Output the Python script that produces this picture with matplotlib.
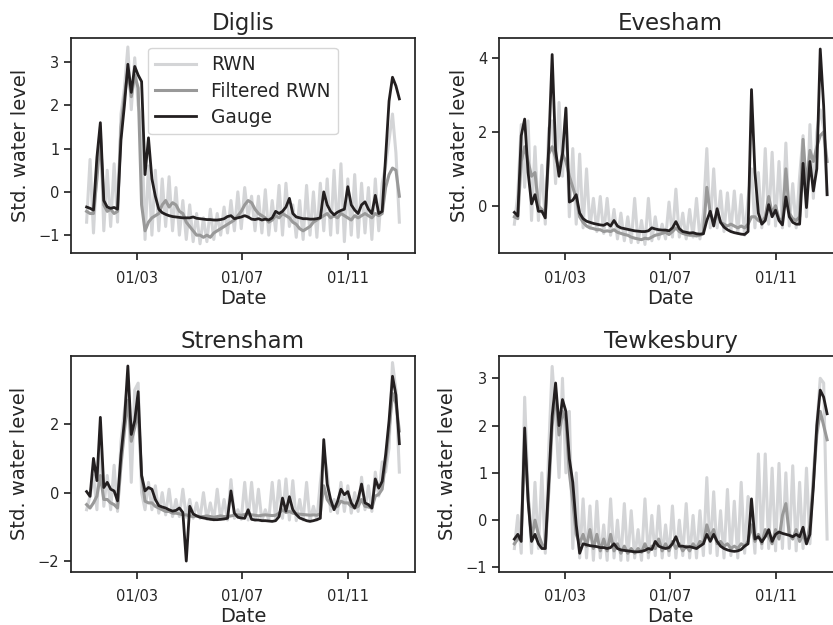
import matplotlib
matplotlib.use("Agg")
import matplotlib.pyplot as plt
import matplotlib.dates as mdates
from matplotlib.ticker import MultipleLocator
import pandas as pd

# una muestra cada 4 dias, del 1 de enero al 31 de diciembre
dates = pd.date_range("2018-01-01", periods=92, freq="4D")

stations = ["Diglis", "Evesham", "Strensham", "Tewkesbury"]

diglis_rwn = [
    -0.7, 0.75, -0.95, 0.6, 1.5, -0.9, 0.5, -0.8, 0.65, -0.7,
    1.8, 2.4, 3.35, 1.9, 3.1, 2.0, 1.6, -1.1, 0.6, -1.0,
    0.5, -0.9, 0.3, -0.8, 0.35, -0.9, 0.1, -1.0, -0.2, -1.1,
    -0.3, -1.15, -0.5, -1.2, -0.6, -1.15, -0.4, -1.1, -0.5, -1.0,
    -0.35, -0.95, -0.2, -0.9, 0.0, -0.85, 0.1, -0.6, -0.1, -0.9,
    -0.1, -0.95, 0.05, -1.0, -0.2, -0.9, 0.15, -1.0, 0.2, -0.8,
    -0.3, -1.05, -0.2, -1.1, 0.15, -1.0, 0.0, -1.05, 0.2, -0.9,
    0.3, -1.0, 0.5, -0.95, 0.65, -1.15, 0.3, -1.0, 0.4, -1.05,
    0.2, -0.95, 0.1, -1.1, 0.3, -0.9, 0.2, 0.6, 1.2, 1.8,
    0.9, -0.7,
]
diglis_filt = [
    -0.45, -0.5, -0.5, 0.3, 1.3, -0.3, -0.45, -0.4, -0.5, -0.45,
    1.5, 2.2, 2.8, 2.2, 2.7, 2.4, -0.3, -0.9, -0.7, -0.6,
    -0.55, -0.5, -0.3, -0.2, -0.35, -0.25, -0.3, -0.45, -0.5, -0.7,
    -0.8, -0.9, -1.0, -1.0, -1.05, -1.0, -1.05, -0.95, -0.9, -0.85,
    -0.8, -0.75, -0.7, -0.65, -0.55, -0.45, -0.3, -0.2, -0.25, -0.4,
    -0.5, -0.55, -0.6, -0.7, -0.65, -0.55, -0.6, -0.5, -0.55, -0.6,
    -0.7, -0.75, -0.85, -0.9, -0.85, -0.8, -0.7, -0.65, -0.6, -0.55,
    -0.5, -0.6, -0.55, -0.6, -0.5, -0.55, -0.6, -0.65, -0.55, -0.6,
    -0.55, -0.5, -0.55, -0.6, -0.5, -0.55, -0.5, 0.1, 0.4, 0.55,
    0.5, -0.1,
]
diglis_gauge = [
    -0.35, -0.38, -0.42, 0.8, 1.6, -0.2, -0.35, -0.38, -0.36, -0.4,
    1.2, 2.0, 2.95, 2.3, 2.9, 2.7, 2.55, 0.4, 1.25, 0.3,
    -0.1, -0.4, -0.48, -0.52, -0.55, -0.57, -0.58, -0.59, -0.6, -0.6,
    -0.6, -0.58, -0.61, -0.62, -0.63, -0.64, -0.64, -0.65, -0.65, -0.64,
    -0.62, -0.57, -0.55, -0.62, -0.6, -0.58, -0.55, -0.58, -0.63, -0.64,
    -0.62, -0.65, -0.63, -0.65, -0.6, -0.45, -0.5, -0.45, -0.35, -0.15,
    -0.5, -0.58, -0.6, -0.62, -0.62, -0.63, -0.63, -0.62, -0.6, 0.0,
    -0.3, -0.45, -0.53, -0.47, -0.43, -0.4, 0.12, -0.3, -0.42, -0.5,
    -0.3, -0.23, -0.4, -0.5, -0.08, -0.5, -0.45, 0.8, 2.1, 2.65,
    2.45, 2.15,
]

evesham_rwn = [
    -0.5, 0.3, 2.2, 0.5, 2.3, -0.4, 1.6, -0.4, 1.1, -0.5,
    2.1, 2.3, 0.6, 2.8, 0.8, 2.6, -0.3, 1.55, -0.5, 1.4,
    -0.6, 1.0, -0.6, 0.2, -0.7, 0.25, -0.75, 0.2, -0.8, -0.1,
    -0.9, -0.2, -0.95, -0.3, -1.0, 0.2, -1.0, -0.4, -1.05, 0.2,
    -0.95, -0.3, -0.9, -0.5, -0.9, 0.1, -0.85, 0.45, -0.85, -0.2,
    -0.9, -0.1, -0.85, 0.2, -0.9, -0.2, 1.55, -0.6, 1.0, -0.6,
    0.4, -0.7, 0.35, -0.7, 0.4, -0.75, 0.3, -0.8, 0.2, 1.0,
    -0.6, 0.9, -0.6, 1.55, -0.5, 1.45, -0.55, 1.2, -0.6, 1.7,
    -0.55, 0.6, -0.6, 0.8, 1.9, -0.3, 2.2, 0.2, 2.0, 2.6,
    2.1, 0.3,
]
evesham_filt = [
    -0.3, -0.35, 1.2, 1.6, 1.2, 0.8, 0.9, 0.0, -0.1, -0.2,
    1.4, 1.6, 1.3, 1.0, 1.4, 1.2, 0.8, 0.5, 0.2, -0.3,
    -0.45, -0.55, -0.6, -0.62, -0.65, -0.65, -0.7, -0.68, -0.7, -0.65,
    -0.72, -0.75, -0.78, -0.8, -0.85, -0.88, -0.9, -0.92, -0.88, -0.9,
    -0.85, -0.8, -0.78, -0.75, -0.72, -0.78, -0.7, -0.6, -0.7, -0.75,
    -0.78, -0.8, -0.8, -0.82, -0.8, -0.75, 0.5, -0.2, -0.45, -0.2,
    -0.45, -0.5, -0.55, -0.5, -0.55, -0.6, -0.55, -0.6, -0.5, -0.3,
    -0.3, -0.4, -0.45, -0.3, 0.25, -0.2, 0.0, -0.35, -0.4, 1.0,
    -0.2, -0.35, -0.4, -0.3, 1.8, 0.5, 1.5, 1.2, 1.6, 1.9,
    2.0, 1.2,
]
evesham_gauge = [
    -0.18, -0.28, 1.9, 2.35, 0.9, 0.05, 0.3, -0.15, -0.15, -0.33,
    1.6, 4.1, 1.5, 0.8, 1.4, 2.65, 0.1, 0.15, 0.3, -0.2,
    -0.35, -0.42, -0.45, -0.48, -0.5, -0.52, -0.53, -0.48, -0.55, -0.4,
    -0.55, -0.6, -0.62, -0.64, -0.66, -0.68, -0.69, -0.7, -0.7, -0.68,
    -0.6, -0.63, -0.65, -0.66, -0.66, -0.68, -0.6, -0.43, -0.62, -0.7,
    -0.72, -0.74, -0.73, -0.76, -0.77, -0.76, -0.4, -0.15, -0.55, -0.08,
    -0.45, -0.58, -0.65, -0.7, -0.73, -0.75, -0.77, -0.78, -0.7, 3.15,
    0.9, -0.2, -0.5, -0.4, 0.03, -0.3, -0.12, -0.4, -0.52, 0.24,
    -0.3, -0.45, -0.5, -0.5, 1.15, -0.05, 1.2, 0.4, 1.0, 4.25,
    2.7, 0.3,
]

strensham_rwn = [
    -0.5, -0.1, 0.5, -0.5, 1.5, -0.4, 0.5, -0.5, 0.8, -0.55,
    1.5, 2.4, 3.2, 0.3, 3.0, 3.2, 0.0, -0.5, 0.3, -0.5,
    0.2, -0.6, 0.0, -0.65, 0.1, -0.7, -0.2, -0.7, 0.1, -0.72,
    -0.2, -0.75, -0.3, -0.75, 0.0, -0.78, -0.3, -0.8, 0.1, -0.78,
    -0.2, -0.8, 0.38, -0.75, -0.5, -0.78, 0.3, -0.8, 0.3, -0.8,
    0.1, -0.82, -0.5, -0.8, 0.3, -0.78, 0.35, -0.75, 0.4, -0.8,
    0.35, -0.82, -0.2, -0.8, 0.3, -0.82, -0.4, -0.8, 0.3, 1.2,
    0.6, -0.55, -0.2, -0.6, 0.3, -0.55, 0.2, -0.6, 0.0, -0.55,
    0.45, -0.5, 0.2, -0.55, 0.6, -0.1, 0.9, 0.6, 1.3, 3.8,
    3.0, 0.6,
]
strensham_filt = [
    -0.35, -0.45, -0.3, -0.1, 0.5, -0.2, -0.2, -0.3, -0.35, -0.45,
    0.8, 1.8, 2.7, 1.5, 1.9, 2.4, 0.5, -0.25, -0.3, -0.3,
    -0.4, -0.45, -0.5, -0.55, -0.55, -0.6, -0.6, -0.62, -0.65, -0.65,
    -0.68, -0.7, -0.68, -0.7, -0.7, -0.68, -0.7, -0.72, -0.7, -0.68,
    -0.7, -0.7, -0.68, -0.66, -0.65, -0.66, -0.64, -0.62, -0.65, -0.66,
    -0.68, -0.66, -0.65, -0.66, -0.67, -0.66, -0.6, -0.5, -0.58, -0.55,
    -0.6, -0.62, -0.63, -0.64, -0.65, -0.66, -0.65, -0.66, -0.62, 0.2,
    -0.2, -0.35, -0.45, -0.4, -0.25, -0.3, -0.3, -0.4, -0.45, -0.4,
    -0.2, -0.4, -0.42, -0.45, -0.1, -0.05, 0.1, 0.9, 1.8, 2.9,
    2.6, 1.8,
]
strensham_gauge = [
    0.03, -0.11, 1.0, 0.35, 2.2, 0.15, 0.3, 0.1, 0.05, -0.24,
    1.1, 2.1, 3.7, 1.7, 2.1, 2.95, 0.5, 0.05, 0.15, 0.1,
    -0.2, -0.38, -0.42, -0.45, -0.5, -0.54, -0.52, -0.45, -0.58, -2.0,
    -0.4, -0.62, -0.68, -0.72, -0.74, -0.76, -0.78, -0.79, -0.79, -0.78,
    -0.77, -0.75, 0.05, -0.6, -0.72, -0.74, -0.75, -0.5, -0.78, -0.8,
    -0.8, -0.82, -0.82, -0.83, -0.84, -0.82, -0.7, -0.16, -0.54, -0.12,
    -0.5, -0.64, -0.74, -0.78, -0.82, -0.84, -0.82, -0.79, -0.75, 1.55,
    0.25, -0.2, -0.5, -0.26, 0.1, -0.06, 0.03, -0.3, -0.45, -0.2,
    0.25, -0.3, -0.35, -0.45, 0.4, 0.13, 0.33, 1.1, 2.1, 3.4,
    2.85, 1.43,
]

tewkesbury_rwn = [
    -0.6, 0.1, -0.7, 2.6, 0.6, -0.7, 0.8, -0.6, 1.0, -0.7,
    1.5, 3.25, 2.2, 0.9, 3.0, 1.0, 2.3, -0.6, 1.0, -0.8,
    0.45, -0.8, 0.3, -0.85, 0.4, -0.8, -0.1, -0.85, 0.45, -0.8,
    0.0, -0.85, 0.35, -0.85, 0.2, -0.8, -0.2, -0.85, 0.45, -0.8,
    0.1, -0.75, 0.3, -0.8, -0.1, -0.75, 0.3, -0.8, 0.0, -0.75,
    0.35, -0.8, 0.1, -0.8, 0.2, -0.75, 0.9, -0.7, 0.6, -0.75,
    0.2, -0.8, 0.65, -0.75, 0.4, -0.8, 0.8, -0.7, 0.5, 0.2,
    -0.7, 1.4, -0.6, 1.4, -0.6, 1.1, -0.65, 1.2, -0.6, 1.0,
    -0.6, 1.15, -0.65, 0.8, -0.6, 1.1, -0.5, 1.0, 2.0, 3.0,
    2.9, -0.4,
]
tewkesbury_filt = [
    -0.5, -0.4, -0.3, 1.6, 0.5, -0.4, 0.0, -0.3, -0.5, -0.6,
    0.6, 2.0, 2.7, 1.8, 2.3, 2.1, 1.0, 0.4, -0.3, -0.5,
    -0.3, -0.55, -0.2, -0.6, -0.3, -0.65, -0.4, -0.65, -0.3, -0.65,
    -0.5, -0.7, -0.55, -0.7, -0.6, -0.7, -0.6, -0.68, -0.5, -0.68,
    -0.55, -0.6, -0.4, -0.65, -0.5, -0.65, -0.45, -0.6, -0.5, -0.65,
    -0.55, -0.65, -0.5, -0.6, -0.45, -0.5, -0.1, -0.35, -0.2, -0.5,
    -0.45, -0.55, -0.5, -0.6, -0.55, -0.6, -0.5, -0.55, -0.45, -0.1,
    -0.45, -0.3, -0.5, -0.2, -0.35, -0.5, -0.2, -0.4, 0.1, 0.35,
    -0.3, -0.4, -0.2, -0.45, -0.3, -0.5, -0.1, 0.8, 1.8, 2.3,
    2.0, 1.7,
]
tewkesbury_gauge = [
    -0.4, -0.3, -0.45, 1.95, 0.4, -0.45, -0.3, -0.5, -0.6, -0.6,
    0.8, 2.2, 2.9, 2.0, 2.55, 2.3, 1.3, 0.8, -0.1, -0.7,
    -0.5, -0.52, -0.54, -0.55, -0.56, -0.58, -0.58, -0.6, -0.58, -0.5,
    -0.6, -0.63, -0.64, -0.65, -0.66, -0.67, -0.67, -0.66, -0.64, -0.6,
    -0.62, -0.45, -0.55, -0.58, -0.6, -0.58, -0.5, -0.35, -0.55, -0.55,
    -0.57, -0.56, -0.58, -0.6, -0.55, -0.5, -0.3, -0.45, -0.3, -0.45,
    -0.55, -0.6, -0.63, -0.65, -0.66, -0.65, -0.62, -0.55, -0.5, 0.45,
    -0.4, -0.35, -0.46, -0.35, -0.2, -0.45, -0.3, -0.25, -0.28, -0.3,
    -0.32, -0.35, -0.3, -0.35, -0.15, -0.5, -0.3, 0.7, 2.0, 2.75,
    2.6, 2.25,
]

rwn = [diglis_rwn, evesham_rwn, strensham_rwn, tewkesbury_rwn]
filt = [diglis_filt, evesham_filt, strensham_filt, tewkesbury_filt]
gauge = [diglis_gauge, evesham_gauge, strensham_gauge, tewkesbury_gauge]

# limites y pasos del eje y de cada panel
ylims = [(-1.42, 3.55), (-1.29, 4.54), (-2.31, 3.99), (-1.09, 3.47)]
ysteps = [1, 2, 2, 1]
# posiciones de los ejes (la figura original esta recortada a la derecha)
positions = [
    [0.0852, 0.5947, 0.413, 0.344],
    [0.5987, 0.5947, 0.413, 0.344],
    [0.0852, 0.0853, 0.413, 0.345],
    [0.5987, 0.0853, 0.413, 0.345],
]

plt.rcParams["font.family"] = ["DejaVu Sans"]
plt.rcParams["text.color"] = "#262626"
plt.rcParams["axes.labelcolor"] = "#262626"
plt.rcParams["xtick.color"] = "#262626"
plt.rcParams["ytick.color"] = "#262626"

fig = plt.figure(figsize=(8.33, 6.25), dpi=100)

for k, name in enumerate(stations):
    ax = fig.add_axes(positions[k])
    ax.plot(dates, rwn[k], color="#d4d5d7", lw=2.2, label="RWN")
    ax.plot(dates, filt[k], color="#999999", lw=2.2, label="Filtered RWN")
    ax.plot(dates, gauge[k], color="#231f20", lw=2.0, label="Gauge")
    ax.set_ylim(ylims[k])
    ax.yaxis.set_major_locator(MultipleLocator(ysteps[k]))
    ax.xaxis.set_major_locator(mdates.MonthLocator(bymonth=[3, 7, 11]))
    ax.xaxis.set_major_formatter(mdates.DateFormatter("%d/%m"))
    ax.set_title(name, fontsize=16.5)
    ax.set_xlabel("Date", fontsize=14, labelpad=2)
    ax.set_ylabel("Std. water level", fontsize=14, labelpad=6)
    ax.tick_params(labelsize=10.5, length=4.8, width=1.25)
    ax.tick_params(axis="x", pad=8)
    for sp in ax.spines.values():
        sp.set_linewidth(1.25)
        sp.set_color("#222222")
    if k == 0:
        ax.legend(loc="upper center", fontsize=13.4, handlelength=2.2,
                  labelspacing=0.4)

fig.savefig("out.png", dpi=100)
